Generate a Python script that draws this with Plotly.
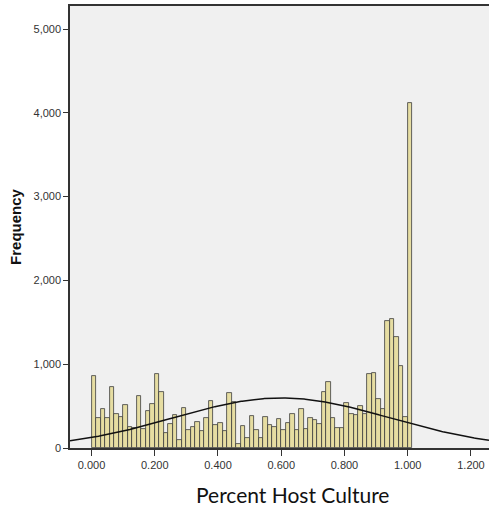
import numpy as np
import plotly.graph_objects as go

# Histogram data (bin width 1/70, bins start at 0)
bin_width = 1 / 70
counts = [861, 359, 466, 354, 730, 408, 374, 514, 255, 239,
          622, 230, 436, 526, 880, 673, 181, 287, 392, 97,
          474, 211, 255, 311, 207, 354, 558, 279, 299, 203,
          653, 550, 48, 261, 123, 385, 209, 115, 374, 275,
          245, 347, 209, 303, 400, 215, 462, 227, 357, 337,
          290, 665, 787, 357, 241, 243, 540, 410, 393, 496,
          407, 882, 893, 586, 466, 1512, 1535, 1323, 974, 366,
          4115]
# Normal curve parameters
curve_mean = 0.60
curve_sd = 0.34

x_ticks = [0.0, 0.2, 0.4, 0.6, 0.8, 1.0, 1.2]
y_ticks = [0, 1000, 2000, 3000, 4000, 5000]
x_range = [-0.068, 1.257]
y_range = [0, 5275]

centers = [(i + 0.5) * bin_width for i in range(len(counts))]
n_total = sum(counts)

xs = np.linspace(x_range[0], x_range[1], 400)
ys = n_total * bin_width / (curve_sd * np.sqrt(2 * np.pi)) * np.exp(-0.5 * ((xs - curve_mean) / curve_sd) ** 2)

fig = go.Figure()
fig.add_trace(go.Bar(
    x=centers, y=counts, width=bin_width,
    marker=dict(color="#E6DDA2", line=dict(color="#3C3C3C", width=0.8)),
    hoverinfo="x+y",
))
fig.add_trace(go.Scatter(
    x=xs, y=ys, mode="lines",
    line=dict(color="#111111", width=1.5),
    hoverinfo="skip",
))

fig.update_layout(
    width=489, height=512,
    margin=dict(l=70, r=0, t=6, b=64),
    paper_bgcolor="white",
    plot_bgcolor="#F0F0F0",
    showlegend=False,
    bargap=0,
    font=dict(family="Liberation Sans, Arial", color="#333333", size=11),
    xaxis=dict(
        range=x_range, tickvals=x_ticks,
        ticktext=[f"{v:.3f}" for v in x_ticks],
        showgrid=False, zeroline=False,
        showline=True, linecolor="#333333", linewidth=1.5, mirror=True,
        ticks="outside", ticklen=6, tickcolor="#333333",
        tickfont=dict(size=11, color="#333333"),
    ),
    yaxis=dict(
        range=y_range, tickvals=y_ticks,
        ticktext=[f"{v:,}" for v in y_ticks],
        showgrid=False, zeroline=False,
        showline=True, linecolor="#333333", linewidth=1.5,
        ticks="outside", ticklen=5, tickcolor="#333333",
        tickfont=dict(size=11, color="#333333"),
        title=dict(text="<b>Frequency</b>", font=dict(family="Liberation Sans, Arial", size=15, color="#111111"), standoff=8),
    ),
    annotations=[dict(
        text="Percent Host Culture", xref="paper", yref="paper",
        x=0.53, y=-0.106, xanchor="center", yanchor="middle",
        showarrow=False, font=dict(family="Lato", size=21, color="#111111"),
    )],
)

fig.write_html("out.html")
